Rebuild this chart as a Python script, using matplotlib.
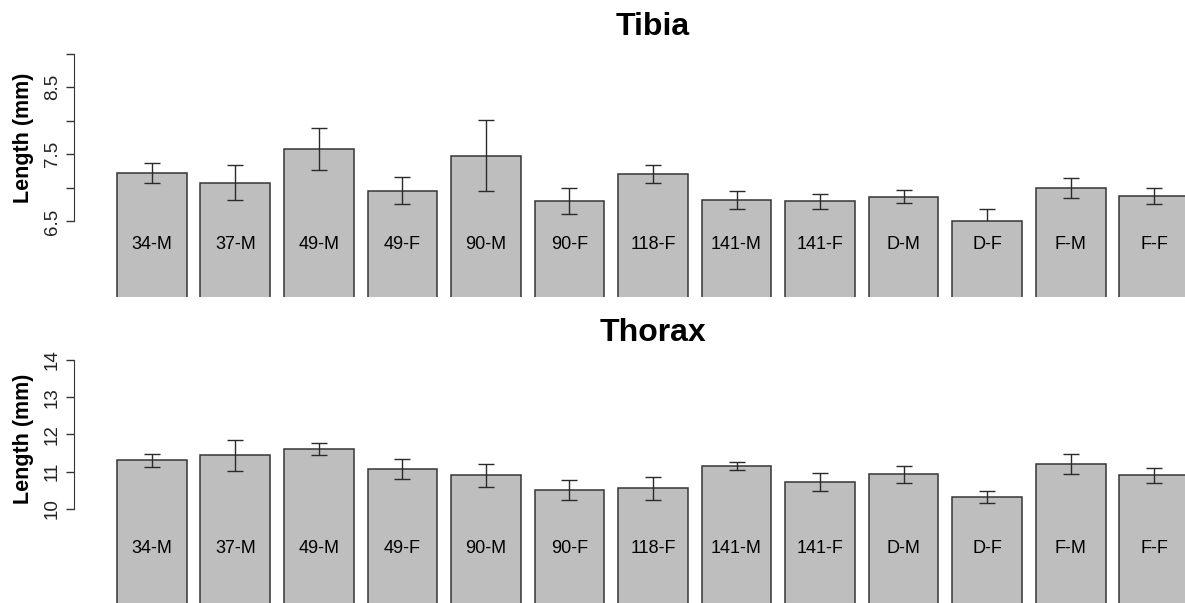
import numpy as np
import matplotlib
matplotlib.use('Agg')
from matplotlib import pyplot as plt
from matplotlib.patches import Rectangle
import matplotlib.transforms as mtransforms

plt.rcParams['font.family'] = ['Liberation Sans', 'DejaVu Sans']

# groups (line - sex)
groups = ['34-M', '37-M', '49-M', '49-F', '90-M', '90-F', '118-F',
          '141-M', '141-F', 'D-M', 'D-F', 'F-M', 'F-F']

# tibia length, mean and standard error (mm)
tibia_mean = [7.22, 7.08, 7.58, 6.96, 7.48, 6.81, 7.21,
              6.82, 6.80, 6.87, 6.50, 7.00, 6.88]
tibia_se = [0.145, 0.255, 0.31, 0.195, 0.53, 0.195, 0.13,
            0.13, 0.115, 0.10, 0.19, 0.145, 0.125]

# thorax length, mean and standard error (mm)
thorax_mean = [11.31, 11.44, 11.61, 11.07, 10.90, 10.50, 10.56,
               11.15, 10.73, 10.93, 10.33, 11.20, 10.90]
thorax_se = [0.17, 0.41, 0.17, 0.26, 0.30, 0.27, 0.31,
             0.105, 0.235, 0.23, 0.16, 0.265, 0.19]

tibia_ticks = [6.5, 7, 7.5, 8, 8.5, 9]
tibia_ticklabels = ['6.5', '', '7.5', '', '8.5', '']
thorax_ticks = [10, 11, 12, 13, 14]
thorax_ticklabels = ['10', '11', '12', '13', '14']

W, H = 1185, 603
fig = plt.figure(figsize=(W / 100, H / 100), dpi=100)

# barplot style positions: width 1, space 0.2
x = 0.7 + 1.2 * np.arange(len(groups))
xlim = (-0.416, 16.216)


def px_axes(left, top, right, bottom):
    return fig.add_axes([left / W, 1 - bottom / H, (right - left) / W, (bottom - top) / H])


def panel(ax, means, ses, ylim, ticks, ticklabels, axis_lo, label_y):
    ax.set_xlim(*xlim)
    ax.set_ylim(*ylim)
    ax.bar(x, means, width=1, bottom=0, color='#bebebe', edgecolor='#353535', linewidth=1.1, zorder=2)
    eb = ax.errorbar(x, means, yerr=ses, fmt='none', ecolor='#2a2a2a', elinewidth=1.0,
                     capsize=5.8, capthick=1.0, zorder=3)
    # error bars are clipped to the plotting range
    clip = Rectangle((xlim[0], axis_lo), xlim[1] - xlim[0], ylim[1] + 5 - axis_lo,
                     transform=ax.transData)
    for art in list(eb.lines[1]) + list(eb.lines[2]):
        art.set_clip_path(clip)
    trans = mtransforms.blended_transform_factory(ax.transData, ax.transAxes)
    for xi, g in zip(x, groups):
        ax.text(xi, label_y, g, transform=trans, ha='center', va='center', fontsize=13, zorder=4)
    for s in ['top', 'right', 'bottom']:
        ax.spines[s].set_visible(False)
    ax.spines['left'].set_bounds(ticks[0], ticks[-1])
    ax.spines['left'].set_color('#333333')
    ax.set_xticks([])
    ax.set_yticks(ticks)
    ax.set_yticklabels(ticklabels, rotation=90, va='center', fontsize=13.5, color='#222222')
    ax.tick_params(axis='y', length=5.5, width=1, color='#333333', pad=4)
    ax.patch.set_alpha(0)


ax1 = px_axes(74, 53.5, 1232, 297)
panel(ax1, tibia_mean, tibia_se, (5.376, 9), tibia_ticks, tibia_ticklabels, 6.5, 0.2136)

ax2 = px_axes(74, 360, 1232, 603)
panel(ax2, thorax_mean, thorax_se, (7.476, 14), thorax_ticks, thorax_ticklabels, 10, 0.226)

fig.text(652.5 / W, 1 - 35 / H, 'Tibia', ha='center', va='baseline', fontsize=23, fontweight='bold')
fig.text(652.5 / W, 1 - 340.7 / H, 'Thorax', ha='center', va='baseline', fontsize=23, fontweight='bold')
fig.text(24 / W, 1 - 137.5 / H, 'Length (mm)', rotation=90, ha='center', va='center',
         fontsize=15.5, fontweight='bold')
fig.text(24 / W, 1 - 439 / H, 'Length (mm)', rotation=90, ha='center', va='center',
         fontsize=15.5, fontweight='bold')

fig.savefig('out.png', dpi=100)
